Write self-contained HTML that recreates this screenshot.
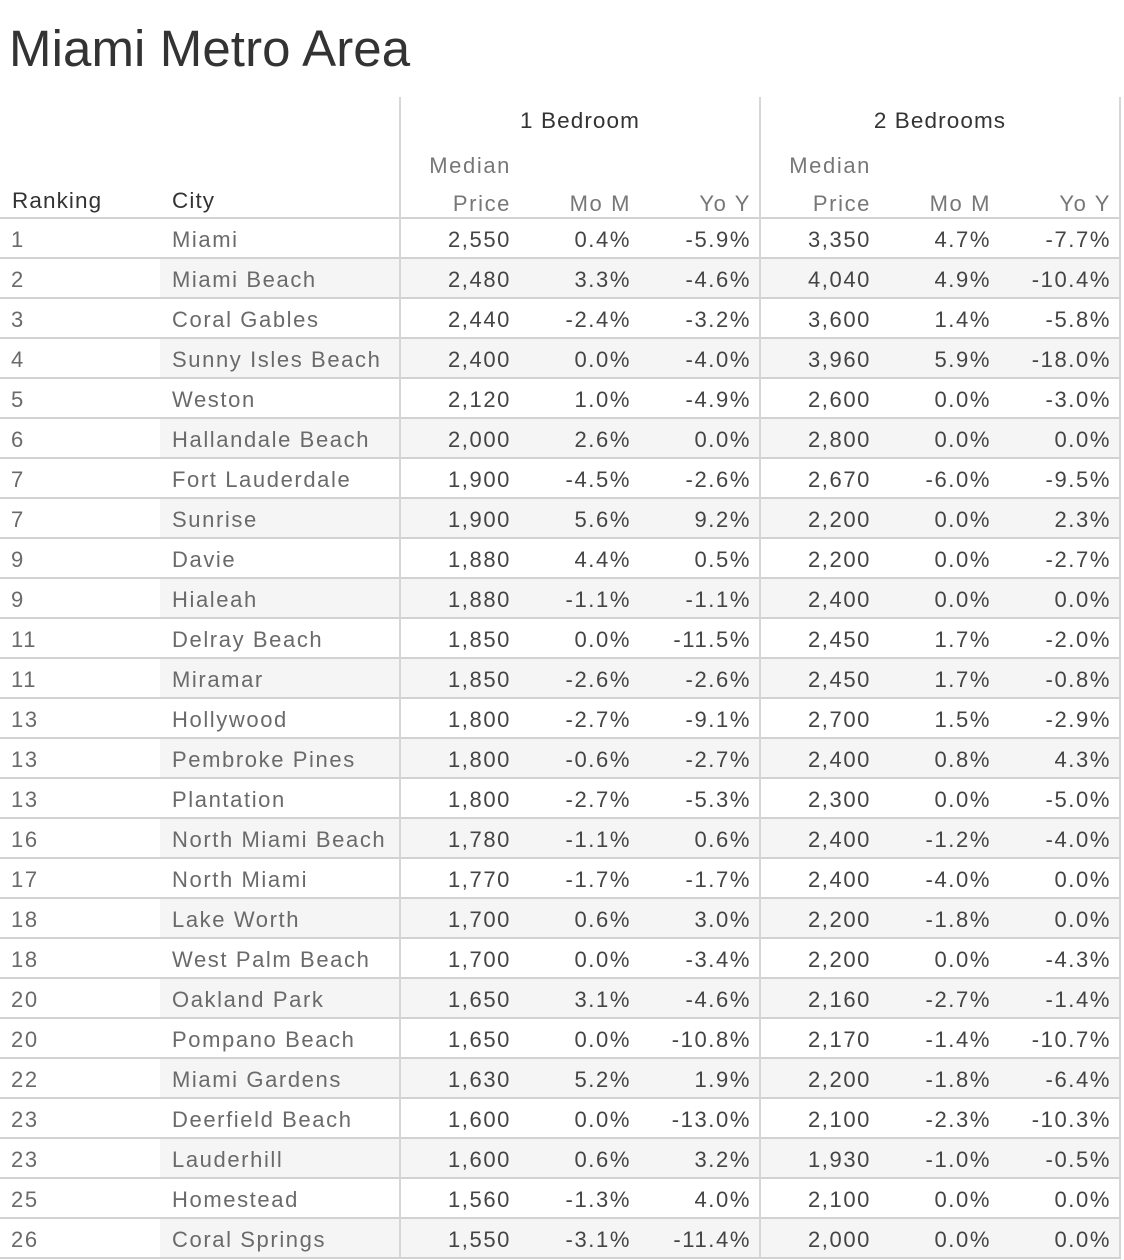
<!DOCTYPE html>
<html><head><meta charset="utf-8">
<style>
html,body{margin:0;padding:0;background:#fff;}
body{width:1124px;height:1260px;position:relative;overflow:hidden;font-family:"Liberation Sans",sans-serif;}
.t{position:absolute;left:9px;top:19px;font-size:51px;line-height:60px;color:#333;white-space:nowrap;letter-spacing:0.1px;}
.h{position:absolute;font-size:22.5px;line-height:30px;color:#333;letter-spacing:1.1px;white-space:nowrap;}
.s{position:absolute;font-size:22px;line-height:30px;color:#777;letter-spacing:1.6px;white-space:nowrap;text-align:right;}
.vl{position:absolute;top:97px;width:2px;height:1161px;background:#d6d6d6;z-index:3;}
.hl{position:absolute;left:0;width:1121px;height:2px;background:#d2d2d2;z-index:2;}
.r{position:absolute;left:0;width:1120px;height:40px;}
.r.z::before{content:"";position:absolute;left:160px;top:0;width:960px;height:40px;background:#f5f5f5;}
.r div{position:absolute;top:2px;font-size:22px;line-height:40px;letter-spacing:1.6px;white-space:nowrap;color:#444;}
.r .a{left:11px;color:#6a6a6a;}
.r .b{left:172px;color:#6a6a6a;}
.r .c,.r .d,.r .e,.r .f,.r .g,.r .k{text-align:right;}
.c{left:400px;width:111px;}
.d{left:520px;width:111px;}
.e{left:640px;width:111px;}
.f{left:760px;width:111px;}
.g{left:880px;width:111px;}
.k{left:1000px;width:111px;}
</style></head><body>
<div class="t">Miami Metro Area</div>

<div class="h" style="left:400px;width:360px;text-align:center;top:106px;">1 Bedroom</div>
<div class="h" style="left:760px;width:360px;text-align:center;top:106px;">2 Bedrooms</div>
<div class="h" style="left:12px;top:186px;">Ranking</div>
<div class="h" style="left:172px;top:186px;">City</div>

<div class="s" style="left:400px;width:111px;top:151px;">Median</div>
<div class="s" style="left:400px;width:111px;top:189px;">Price</div>
<div class="s" style="left:520px;width:111px;top:189px;">Mo M</div>
<div class="s" style="left:640px;width:111px;top:189px;">Yo Y</div>
<div class="s" style="left:760px;width:111px;top:151px;">Median</div>
<div class="s" style="left:760px;width:111px;top:189px;">Price</div>
<div class="s" style="left:880px;width:111px;top:189px;">Mo M</div>
<div class="s" style="left:1000px;width:111px;top:189px;">Yo Y</div>

<div class="vl" style="left:399px;"></div>
<div class="vl" style="left:759px;"></div>
<div class="vl" style="left:1119px;"></div>

<div class="hl" style="top:217px"></div>
<div class="hl" style="top:257px"></div>
<div class="hl" style="top:297px"></div>
<div class="hl" style="top:337px"></div>
<div class="hl" style="top:377px"></div>
<div class="hl" style="top:417px"></div>
<div class="hl" style="top:457px"></div>
<div class="hl" style="top:497px"></div>
<div class="hl" style="top:537px"></div>
<div class="hl" style="top:577px"></div>
<div class="hl" style="top:617px"></div>
<div class="hl" style="top:657px"></div>
<div class="hl" style="top:697px"></div>
<div class="hl" style="top:737px"></div>
<div class="hl" style="top:777px"></div>
<div class="hl" style="top:817px"></div>
<div class="hl" style="top:857px"></div>
<div class="hl" style="top:897px"></div>
<div class="hl" style="top:937px"></div>
<div class="hl" style="top:977px"></div>
<div class="hl" style="top:1017px"></div>
<div class="hl" style="top:1057px"></div>
<div class="hl" style="top:1097px"></div>
<div class="hl" style="top:1137px"></div>
<div class="hl" style="top:1177px"></div>
<div class="hl" style="top:1217px"></div>
<div class="hl" style="top:1257px"></div>

<div class="r" style="top:218px"><div class="a">1</div><div class="b">Miami</div><div class="c">2,550</div><div class="d">0.4%</div><div class="e">-5.9%</div><div class="f">3,350</div><div class="g">4.7%</div><div class="k">-7.7%</div></div>
<div class="r z" style="top:258px"><div class="a">2</div><div class="b">Miami Beach</div><div class="c">2,480</div><div class="d">3.3%</div><div class="e">-4.6%</div><div class="f">4,040</div><div class="g">4.9%</div><div class="k">-10.4%</div></div>
<div class="r" style="top:298px"><div class="a">3</div><div class="b">Coral Gables</div><div class="c">2,440</div><div class="d">-2.4%</div><div class="e">-3.2%</div><div class="f">3,600</div><div class="g">1.4%</div><div class="k">-5.8%</div></div>
<div class="r z" style="top:338px"><div class="a">4</div><div class="b">Sunny Isles Beach</div><div class="c">2,400</div><div class="d">0.0%</div><div class="e">-4.0%</div><div class="f">3,960</div><div class="g">5.9%</div><div class="k">-18.0%</div></div>
<div class="r" style="top:378px"><div class="a">5</div><div class="b">Weston</div><div class="c">2,120</div><div class="d">1.0%</div><div class="e">-4.9%</div><div class="f">2,600</div><div class="g">0.0%</div><div class="k">-3.0%</div></div>
<div class="r z" style="top:418px"><div class="a">6</div><div class="b">Hallandale Beach</div><div class="c">2,000</div><div class="d">2.6%</div><div class="e">0.0%</div><div class="f">2,800</div><div class="g">0.0%</div><div class="k">0.0%</div></div>
<div class="r" style="top:458px"><div class="a">7</div><div class="b">Fort Lauderdale</div><div class="c">1,900</div><div class="d">-4.5%</div><div class="e">-2.6%</div><div class="f">2,670</div><div class="g">-6.0%</div><div class="k">-9.5%</div></div>
<div class="r z" style="top:498px"><div class="a">7</div><div class="b">Sunrise</div><div class="c">1,900</div><div class="d">5.6%</div><div class="e">9.2%</div><div class="f">2,200</div><div class="g">0.0%</div><div class="k">2.3%</div></div>
<div class="r" style="top:538px"><div class="a">9</div><div class="b">Davie</div><div class="c">1,880</div><div class="d">4.4%</div><div class="e">0.5%</div><div class="f">2,200</div><div class="g">0.0%</div><div class="k">-2.7%</div></div>
<div class="r z" style="top:578px"><div class="a">9</div><div class="b">Hialeah</div><div class="c">1,880</div><div class="d">-1.1%</div><div class="e">-1.1%</div><div class="f">2,400</div><div class="g">0.0%</div><div class="k">0.0%</div></div>
<div class="r" style="top:618px"><div class="a">11</div><div class="b">Delray Beach</div><div class="c">1,850</div><div class="d">0.0%</div><div class="e">-11.5%</div><div class="f">2,450</div><div class="g">1.7%</div><div class="k">-2.0%</div></div>
<div class="r z" style="top:658px"><div class="a">11</div><div class="b">Miramar</div><div class="c">1,850</div><div class="d">-2.6%</div><div class="e">-2.6%</div><div class="f">2,450</div><div class="g">1.7%</div><div class="k">-0.8%</div></div>
<div class="r" style="top:698px"><div class="a">13</div><div class="b">Hollywood</div><div class="c">1,800</div><div class="d">-2.7%</div><div class="e">-9.1%</div><div class="f">2,700</div><div class="g">1.5%</div><div class="k">-2.9%</div></div>
<div class="r z" style="top:738px"><div class="a">13</div><div class="b">Pembroke Pines</div><div class="c">1,800</div><div class="d">-0.6%</div><div class="e">-2.7%</div><div class="f">2,400</div><div class="g">0.8%</div><div class="k">4.3%</div></div>
<div class="r" style="top:778px"><div class="a">13</div><div class="b">Plantation</div><div class="c">1,800</div><div class="d">-2.7%</div><div class="e">-5.3%</div><div class="f">2,300</div><div class="g">0.0%</div><div class="k">-5.0%</div></div>
<div class="r z" style="top:818px"><div class="a">16</div><div class="b">North Miami Beach</div><div class="c">1,780</div><div class="d">-1.1%</div><div class="e">0.6%</div><div class="f">2,400</div><div class="g">-1.2%</div><div class="k">-4.0%</div></div>
<div class="r" style="top:858px"><div class="a">17</div><div class="b">North Miami</div><div class="c">1,770</div><div class="d">-1.7%</div><div class="e">-1.7%</div><div class="f">2,400</div><div class="g">-4.0%</div><div class="k">0.0%</div></div>
<div class="r z" style="top:898px"><div class="a">18</div><div class="b">Lake Worth</div><div class="c">1,700</div><div class="d">0.6%</div><div class="e">3.0%</div><div class="f">2,200</div><div class="g">-1.8%</div><div class="k">0.0%</div></div>
<div class="r" style="top:938px"><div class="a">18</div><div class="b">West Palm Beach</div><div class="c">1,700</div><div class="d">0.0%</div><div class="e">-3.4%</div><div class="f">2,200</div><div class="g">0.0%</div><div class="k">-4.3%</div></div>
<div class="r z" style="top:978px"><div class="a">20</div><div class="b">Oakland Park</div><div class="c">1,650</div><div class="d">3.1%</div><div class="e">-4.6%</div><div class="f">2,160</div><div class="g">-2.7%</div><div class="k">-1.4%</div></div>
<div class="r" style="top:1018px"><div class="a">20</div><div class="b">Pompano Beach</div><div class="c">1,650</div><div class="d">0.0%</div><div class="e">-10.8%</div><div class="f">2,170</div><div class="g">-1.4%</div><div class="k">-10.7%</div></div>
<div class="r z" style="top:1058px"><div class="a">22</div><div class="b">Miami Gardens</div><div class="c">1,630</div><div class="d">5.2%</div><div class="e">1.9%</div><div class="f">2,200</div><div class="g">-1.8%</div><div class="k">-6.4%</div></div>
<div class="r" style="top:1098px"><div class="a">23</div><div class="b">Deerfield Beach</div><div class="c">1,600</div><div class="d">0.0%</div><div class="e">-13.0%</div><div class="f">2,100</div><div class="g">-2.3%</div><div class="k">-10.3%</div></div>
<div class="r z" style="top:1138px"><div class="a">23</div><div class="b">Lauderhill</div><div class="c">1,600</div><div class="d">0.6%</div><div class="e">3.2%</div><div class="f">1,930</div><div class="g">-1.0%</div><div class="k">-0.5%</div></div>
<div class="r" style="top:1178px"><div class="a">25</div><div class="b">Homestead</div><div class="c">1,560</div><div class="d">-1.3%</div><div class="e">4.0%</div><div class="f">2,100</div><div class="g">0.0%</div><div class="k">0.0%</div></div>
<div class="r z" style="top:1218px"><div class="a">26</div><div class="b">Coral Springs</div><div class="c">1,550</div><div class="d">-3.1%</div><div class="e">-11.4%</div><div class="f">2,000</div><div class="g">0.0%</div><div class="k">0.0%</div></div>
</body></html>
